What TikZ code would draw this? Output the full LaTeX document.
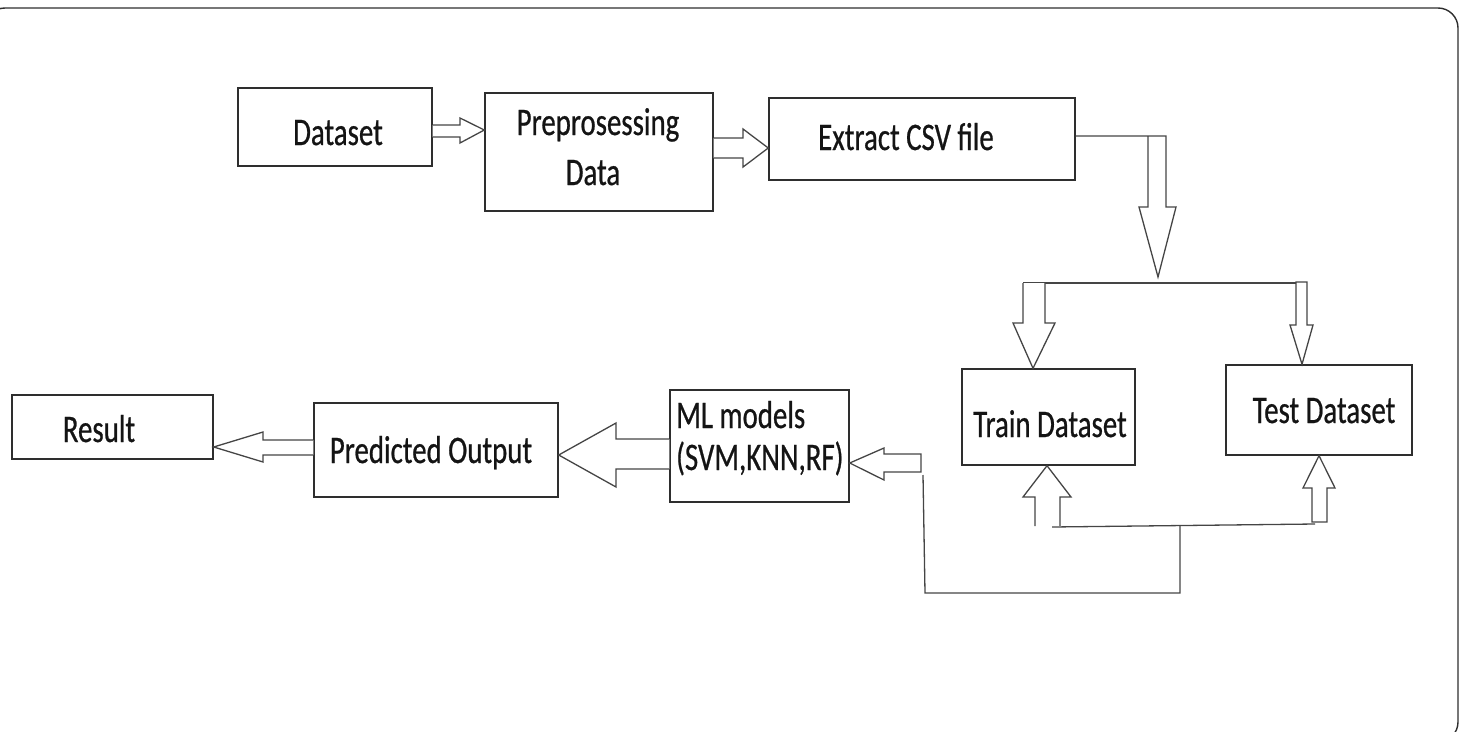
\documentclass[tikz,border=0pt]{standalone}
\usepackage{fontspec}
\newfontfamily\lblfont[FakeStretch=0.74, FakeBold=0.6]{Carlito}
\usetikzlibrary{calc}
\definecolor{ink}{HTML}{141414}
\definecolor{edge}{HTML}{2E2E2E}
\definecolor{arrowgray}{HTML}{454545}
\tikzset{
  box/.style={draw=edge, line width=1.4pt, minimum width=#1, inner sep=0pt},
  lbl/.style={font=\lblfont\fontsize{39}{44}\selectfont, text=ink, inner sep=0pt, anchor=base},
  blk/.style={draw=arrowgray, line width=1.3pt, line join=miter, fill=white},
  wire/.style={draw=arrowgray, line width=1.3pt},
}
\begin{document}
\begin{tikzpicture}[x=1pt, y=-1pt]
\useasboundingbox (0,0) rectangle (1466,731);
% outer frame
\draw[draw=edge, line width=1.4pt, rounded corners=20pt] (-15,8) rectangle (1458,742);

% boxes
\node[box=194pt, minimum height=78pt]  (data)  at (335,127)    {};
\node[box=228pt, minimum height=118pt] (pre)   at (599,152)    {};
\node[box=306pt, minimum height=82pt]  (csv)   at (922,139)    {};
\node[box=173pt, minimum height=96pt]  (train) at (1048.5,417) {};
\node[box=186pt, minimum height=90pt]  (test)  at (1319,410)   {};
\node[box=179pt, minimum height=112pt] (ml)    at (759.5,446)  {};
\node[box=244pt, minimum height=94pt]  (pred)  at (436,450)    {};
\node[box=201pt, minimum height=64pt]  (res)   at (112.5,427)  {};

% labels
\node[lbl] (tdata)  at (338,145)  {Dataset};
\node[lbl] (tpre1)  at (598,135)  {Preprosessing};
\node[lbl] (tpre2)  at (593,185)  {Data};
\node[lbl] (tcsv)   at (906,150)  {Extract CSV file};
\node[lbl] (ttrain) at (1050,437) {Train Dataset};
\node[lbl] (ttest)  at (1324,423) {Test Dataset};
\node[lbl, anchor=base west] (tml1) at (676,428) {ML models};
\node[lbl, anchor=base west] (tml2) at (676,470) {(SVM,KNN,RF)};
\node[lbl] (tpred)  at (431,463)  {Predicted Output};
\node[lbl] (tres)   at (99,442)   {Result};

% Dataset -> Preprocessing
\draw[blk] (data.east |- 0,125) -- (460,125) -- (460,118) -- (pre.west |- 0,130)
  -- (460,143) -- (460,137) -- (data.east |- 0,137);
% Preprocessing -> Extract CSV
\draw[blk] (pre.east |- 0,138) -- (743,138) -- (743,129) -- (csv.west |- 0,148)
  -- (743,167) -- (743,158) -- (pre.east |- 0,158);
% Extract CSV -> split
\draw[wire] (csv.east |- 0,136) -- (1166,136) -- (1166,207) -- (1176,207)
  -- (1158,277) -- (1139,207) -- (1148,207) -- (1148,136);
% split bar
\draw[wire] (1023,283) -- (1297,283);
% split -> Train
\draw[blk] (1023,283) -- (1023,323) -- (1013,323) -- (train.north -| 1033,0)
  -- (1055,323) -- (1045,323) -- (1045,283);
% split -> Test
\draw[blk] (1296,282) -- (1307,282) -- (1307,325) -- (1313,325) -- (test.north -| 1302,0)
  -- (1290,325) -- (1296,325) -- cycle;

% Train/Test -> ML models feedback
\draw[blk] (1035,526) -- (1035,497) -- (1023,497) -- (train.south -| 1047,0)
  -- (1071,497) -- (1060,497) -- (1060,526);
\draw[blk] (1312,522) -- (1312,488) -- (1303,488) -- (test.south -| 1319,0)
  -- (1335,488) -- (1327,488) -- (1327,522) -- cycle;
\draw[wire] (1052,527) -- (1315,524);
\coordinate (join) at (1180,526);
\coordinate (low)  at (1180,593);
\draw[wire] (join) -- (low) -- (925,593) -- (923,475);
\draw[blk] (ml.east |- 0,463) -- (884,448) -- (884,454) -- (921,454)
  -- (921,472) -- (884,472) -- (884,480) -- cycle;

% ML models -> Predicted Output
\draw[blk] (ml.west |- 0,439) -- (616,439) -- (616,423) -- (pred.east |- 0,455)
  -- (616,487) -- (616,469) -- (ml.west |- 0,469);
% Predicted Output -> Result
\draw[blk] (pred.west |- 0,440) -- (263,440) -- (263,432) -- (res.east |- 0,447)
  -- (263,462) -- (263,455) -- (pred.west |- 0,455);
\end{tikzpicture}
\end{document}
